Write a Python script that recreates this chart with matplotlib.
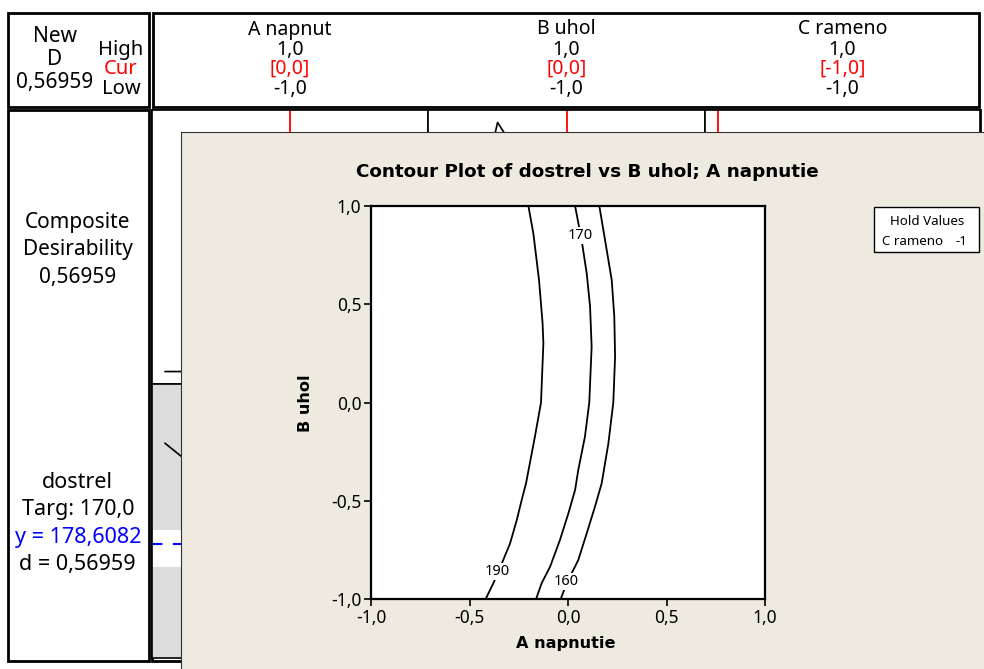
import matplotlib
matplotlib.use("Agg")
import matplotlib.pyplot as plt
from matplotlib.patches import Rectangle
from matplotlib.ticker import FixedLocator, FuncFormatter

plt.rcParams['font.family'] = ['Noto Sans', 'DejaVu Sans']
BOLD_FAMILY = ['DejaVu Sans']

# ---------------------------------------------------------------- data
factor_names = ['A napnut', 'B uhol', 'C rameno']
factor_high = [1.0, 1.0, 1.0]
factor_cur = [0.0, 0.0, -1.0]
factor_low = [-1.0, -1.0, -1.0]

composite_d = 0.56959
target = 170.0
y_pred = 178.6082
lower_limit = 160.0
upper_limit = 190.0

# optimizer traces (response along each factor, others held at current)
a_grid = [-1.0, -0.14, 0.105, 0.23, 1.0]
comp_d_a = [0.0, 0.0, 0.93, 0.0, 0.0]
dostrel_a = [260.3, 190.0, 170.0, 160.0, 96.9]

b_grid = [-1.0, -0.55, 0.0, 0.5, 1.0]
comp_d_b = [0.0, 1.0, 0.57, 0.54, 0.85]
dostrel_b = [156.8, 170.0, 178.6, 179.2, 173.0]

# contour lines of dostrel over (A napnutie, B uhol), C rameno held at -1
contour_levels = [190, 170, 160]
c190_b = [1.0, 0.861, 0.623, 0.403, 0.301, 0.0, -0.174, -0.411, -0.496,
          -0.598, -0.717, -0.802, -0.920, -1.0]
c190_a = [-0.201, -0.176, -0.147, -0.129, -0.125, -0.137, -0.168, -0.213,
          -0.235, -0.260, -0.294, -0.329, -0.379, -0.418]
c170_b = [1.0, 0.827, 0.657, 0.488, 0.284, 0.0, -0.174, -0.344, -0.445,
          -0.564, -0.700, -0.836, -0.920, -1.0]
c170_a = [0.036, 0.069, 0.095, 0.112, 0.120, 0.108, 0.086, 0.052, 0.036,
          0.002, -0.041, -0.091, -0.134, -0.162]
c160_b = [1.0, 0.827, 0.623, 0.437, 0.233, 0.0, -0.208, -0.411, -0.530,
          -0.666, -0.802, -0.920, -1.0]
c160_a = [0.159, 0.188, 0.222, 0.235, 0.239, 0.230, 0.205, 0.171, 0.137,
          0.095, 0.052, -0.007, -0.037]
label_a = [-0.359, 0.061, -0.007]
label_b = [-0.861, 0.850, -0.912]

ticks = [-1.0, -0.5, 0.0, 0.5, 1.0]
hold_name = 'C rameno'
hold_value = -1

# ---------------------------------------------------------------- figure
W, H = 984, 669
fig = plt.figure(figsize=(W / 100, H / 100), dpi=100)
RED = '#FF0000'
BLUE = '#0000FF'
BEIGE = '#EEEAE0'
GRAY = '#DCDCDC'


def comma(v, nd=1):
    return f"{v:.{nd}f}".replace('.', ',')


def px_axes(x0, y0, x1, y1):
    return fig.add_axes([x0 / W, 1 - y1 / H, (x1 - x0) / W, (y1 - y0) / H])


def ftext(x, y, s, **kw):
    kw.setdefault('ha', 'center')
    kw.setdefault('va', 'baseline')
    fig.text(x / W, 1 - y / H, s, **kw)


# frame boxes
bg = px_axes(0, 0, W, H)
bg.set_xlim(0, W)
bg.set_ylim(H, 0)
bg.axis('off')
for (x0, y0, x1, y1) in [(8, 13, 149, 107), (153, 13, 979, 107),
                         (8, 110, 149, 661), (152, 110, 980, 661)]:
    bg.add_patch(Rectangle((x0, y0), x1 - x0, y1 - y0, fill=False,
                           ec='black', lw=2))

# optimizer panels
cols = [(152, 428), (428, 705), (705, 980)]
rows = [(110, 384), (384, 658)]
m = 0.105
traces = {0: (a_grid, comp_d_a, dostrel_a), 1: (b_grid, comp_d_b, dostrel_b)}
for ci, (x0, x1) in enumerate(cols):
    for ri, (y0, y1) in enumerate(rows):
        pax = px_axes(x0, y0, x1, y1)
        pax.set_xlim(-1 - m, 1 + m)
        pax.set_xticks([])
        pax.set_yticks([])
        pax.set_facecolor('white')
        for s in pax.spines.values():
            s.set_linewidth(1.2)
        if ri == 0:
            pax.set_ylim(-0.05, 1.05)
        else:
            pax.set_ylim(86.2, 308.4)
            pax.axhspan(86.2, lower_limit, color=GRAY, lw=0)
            pax.axhspan(upper_limit, 308.4, color=GRAY, lw=0)
            pax.axhline(y_pred, color=BLUE, lw=1.5, ls=(0, (5, 5)))
        if ci in traces:
            g, dvals, yvals = traces[ci]
            pax.plot(g, dvals if ri == 0 else yvals, color='black', lw=1.2)
        pax.axvline(factor_cur[ci], color=RED, lw=1.3)

# overlay window with the contour plot
ov = px_axes(181, 132, 984, 669)
ov.set_facecolor(BEIGE)
ov.set_xticks([])
ov.set_yticks([])
ov.spines['right'].set_visible(False)
ov.spines['bottom'].set_visible(False)
ov.spines['left'].set_color('#333333')
ov.spines['top'].set_color('#333333')

ax = px_axes(371, 206, 765, 599)
ax.set_facecolor('white')
ax.set_xlim(-1, 1)
ax.set_ylim(-1, 1)
ax.xaxis.set_major_locator(FixedLocator(ticks))
ax.yaxis.set_major_locator(FixedLocator(ticks))
fmt = FuncFormatter(lambda v, p: comma(v))
ax.xaxis.set_major_formatter(fmt)
ax.yaxis.set_major_formatter(fmt)
ax.tick_params(direction='out', length=5, width=1.2, labelsize=12.5, pad=2)
for s in ax.spines.values():
    s.set_linewidth(1.6)

for a_vals, b_vals in [(c190_a, c190_b), (c170_a, c170_b), (c160_a, c160_b)]:
    ax.plot(a_vals, b_vals, color='black', lw=1.3)
for lev, la, lb in zip(contour_levels, label_a, label_b):
    ax.text(la, lb, str(lev), ha='center', va='center', fontsize=10.5,
            bbox=dict(boxstyle='square,pad=0.05', fc='white', ec='none'))

ftext(587, 177, 'Contour Plot of dostrel vs B uhol; A napnutie',
      fontsize=13.2, fontweight='bold', family=BOLD_FAMILY)
ftext(566, 648, 'A napnutie', fontsize=11.6, fontweight='bold',
      family=BOLD_FAMILY)
ftext(306, 403, 'B uhol', fontsize=11.6, fontweight='bold', rotation=90,
      va='center', family=BOLD_FAMILY)

# hold values box
fig.add_artist(Rectangle((874 / W, 1 - 252 / H), 105 / W, 45 / H,
                         transform=fig.transFigure, fc='white', ec='black',
                         lw=1))
ftext(927, 225, 'Hold Values', fontsize=9.6)
ftext(882, 245, hold_name, fontsize=9.6, ha='left')
ftext(967, 245, str(hold_value), fontsize=9.6, ha='right')

# header
ftext(55, 41.7, 'New', fontsize=15)
ftext(55, 65, 'D', fontsize=15)
ftext(55, 88, comma(composite_d, 5), fontsize=15)
ftext(121, 55, 'High', fontsize=14.5)
ftext(121, 74, 'Cur', fontsize=14.5, color=RED)
ftext(121, 94, 'Low', fontsize=14.5)
for (x0, x1), name, hi, cu, lo in zip(cols, factor_names, factor_high,
                                      factor_cur, factor_low):
    xc = (x0 + x1) / 2
    ftext(xc, 34.5, name, fontsize=14)
    ftext(xc, 55, comma(hi), fontsize=14)
    ftext(xc, 74, f"[{comma(cu)}]", fontsize=14, color=RED)
    ftext(xc, 94, comma(lo), fontsize=14)

# left column
ftext(78, 228.3, 'Composite', fontsize=15)
ftext(78, 255, 'Desirability', fontsize=15)
ftext(78, 282.7, comma(composite_d, 5), fontsize=15)
ftext(77, 488, 'dostrel', fontsize=15.5)
ftext(78, 515, f"Targ: {comma(target)}", fontsize=15.5)
ftext(78, 542.7, f"y = {comma(y_pred, 4)}", fontsize=15.5, color=BLUE)
ftext(77.5, 570, f"d = {comma(composite_d, 5)}", fontsize=15.5)

fig.savefig('out.png', dpi=100)
